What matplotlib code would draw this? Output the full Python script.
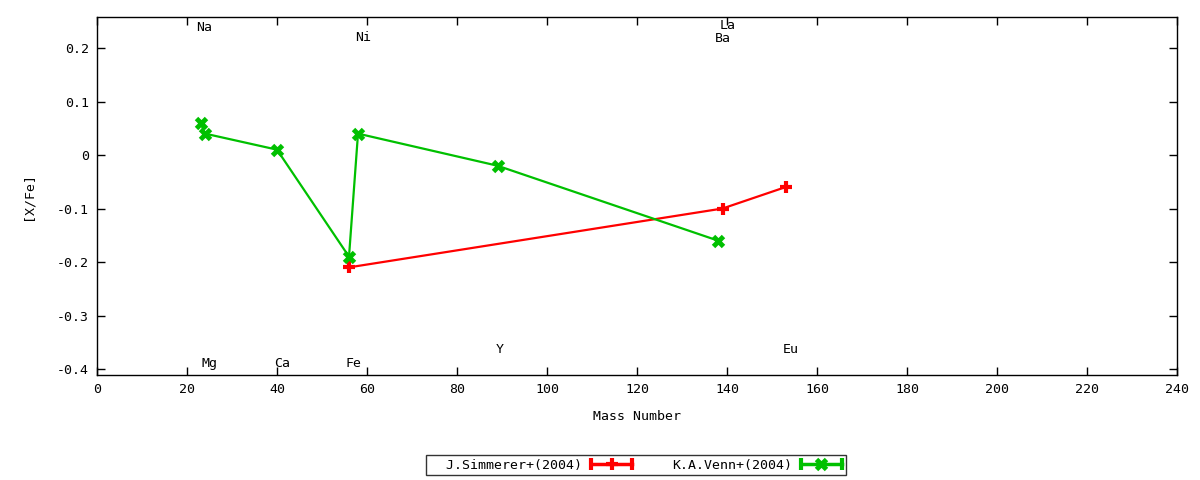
import matplotlib
matplotlib.use("Agg")
import matplotlib.pyplot as plt
from matplotlib.lines import Line2D
from matplotlib.legend_handler import HandlerBase

plt.rcParams['font.family'] = ['DejaVu Sans Mono']
plt.rcParams['font.size'] = 9.5

# Data
simmerer_mass = [56, 139, 153]
simmerer_xfe = [-0.21, -0.10, -0.06]

venn_mass = [23, 24, 40, 56, 58, 89, 138]
venn_xfe = [0.06, 0.04, 0.01, -0.19, 0.04, -0.02, -0.16]

series_labels = ["J.Simmerer+(2004)", "K.A.Venn+(2004)"]

elem_names = ["Na", "Mg", "Ca", "Fe", "Ni", "Y", "Ba", "La", "Eu"]
elem_x = [23.9, 25.0, 41.1, 57.1, 59.1, 89.4, 139.1, 140.2, 154.2]
elem_y = [0.239, -0.389, -0.389, -0.389, 0.219, -0.363, 0.217, 0.242, -0.363]

x_ticks = list(range(0, 241, 20))
y_ticks = [-0.4, -0.3, -0.2, -0.1, 0, 0.1, 0.2]
y_tick_labels = ["-0.4", "-0.3", "-0.2", "-0.1", "0", "0.1", "0.2"]

RED = "#ff0000"
GREEN = "#00c000"

fig = plt.figure(figsize=(12, 4.8), dpi=100)
ax = fig.add_axes([97/1200, 105/480, 1080/1200, 358/480])

l1, = ax.plot(simmerer_mass, simmerer_xfe, color=RED, lw=1.6, marker='+',
              ms=9, mew=3, label="  " + series_labels[0])
l2, = ax.plot(venn_mass, venn_xfe, color=GREEN, lw=1.6, marker='x',
              ms=7, mew=3.5, label=series_labels[1])

for n, x, y in zip(elem_names, elem_x, elem_y):
    ax.text(x, y, n, ha='center', va='center', fontsize=9.5)

ax.set_xlim(0, 240)
ax.set_ylim(-0.4112, 0.258)
ax.set_xticks(x_ticks)
ax.set_xticklabels([str(t) for t in x_ticks])
ax.set_yticks(y_ticks)
ax.set_yticklabels(y_tick_labels)
ax.tick_params(direction='in', length=6, width=1, top=True, right=True,
               labelsize=9.5, pad=6)
for s in ax.spines.values():
    s.set_linewidth(1)
ax.set_xlabel("Mass Number", fontsize=9.5, labelpad=10)
ax.set_ylabel("[X/Fe]", fontsize=9.5, labelpad=16)


class CapHandler(HandlerBase):
    def create_artists(self, legend, orig_handle, xdescent, ydescent,
                       width, height, fontsize, trans):
        y = height / 2 - ydescent
        x0, x1 = -xdescent, -xdescent + width
        c = orig_handle.get_color()
        line = Line2D([x0, x1], [y, y], color=c, lw=2.5)
        caps = Line2D([x0, x1], [y, y], ls='none', marker='|', ms=9,
                      mew=3, color=c)
        mk = Line2D([(x0 + x1) / 2], [y], ls='none',
                    marker=orig_handle.get_marker(), ms=orig_handle.get_markersize(),
                    mew=orig_handle.get_markeredgewidth(), color=c)
        arts = [line, caps, mk]
        for a in arts:
            a.set_transform(trans)
        return arts


leg = fig.legend(handles=[l1, l2], loc='center', bbox_to_anchor=(636/1200, 15/480),
                 ncol=2, markerfirst=False, frameon=True, fancybox=False,
                 edgecolor='black', handlelength=3.1, handletextpad=0.7,
                 columnspacing=3.0, borderpad=0.3, borderaxespad=0,
                 fontsize=9.5, handler_map={Line2D: CapHandler()})
leg.get_frame().set_linewidth(1)

fig.savefig("out.png", dpi=100)
